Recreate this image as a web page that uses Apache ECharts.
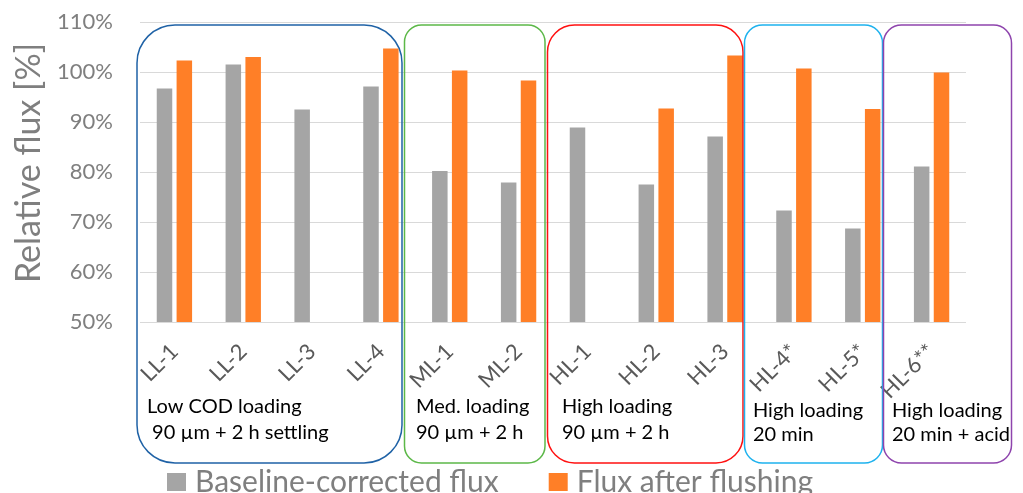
<!DOCTYPE html>
<html>
<head>
<meta charset="utf-8">
<script src="https://cdn.jsdelivr.net/npm/echarts@6/dist/echarts.min.js"></script>
<style>
  html, body { margin: 0; padding: 0; background: #fff; }
  #chart { width: 1023px; height: 493px; }
</style>
</head>
<body>
<div id="chart"></div>
<script>
// Samples (x axis) and measured relative fluxes (%)
const samples = ['LL-1', 'LL-2', 'LL-3', 'LL-4', 'ML-1', 'ML-2', 'HL-1', 'HL-2', 'HL-3', 'HL-4*', 'HL-5*', 'HL-6**'];
const baselineCorrected = [96.7, 101.5, 92.5, 97.1, 80.2, 77.9, 88.9, 77.5, 87.1, 72.3, 68.7, 81.1];
const afterFlushing = [102.3, 103.0, null, 104.7, 100.3, 98.3, null, 92.7, 103.3, 100.7, 92.6, 99.9];
const seriesNames = ['Baseline-corrected flux', 'Flux after flushing'];
const yTicks = { min: 50, max: 110, step: 10 };

// Experiment groups: box outline and two-line caption
const groups = [
  { x0: 137, x1: 402, r: 38, color: '#1f62a6', lines: ['Low COD loading', ' 90 µm + 2 h settling'], tx: 147, ty: [417, 443] },
  { x0: 404.5, x1: 545, r: 17, color: '#5cb848', lines: ['Med. loading', '90 µm + 2 h'], tx: 416, ty: [417, 443] },
  { x0: 547.5, x1: 743, r: 27, color: '#ff1010', lines: ['High loading', '90 µm + 2 h'], tx: 562, ty: [417, 443] },
  { x0: 744.5, x1: 882.5, r: 18, color: '#1eb2ee', lines: ['High loading', '20 min'], tx: 753, ty: [421, 445] },
  { x0: 883.5, x1: 1011.5, r: 18, color: '#8e44ad', lines: ['High loading', '20 min + acid'], tx: 892, ty: [421, 445] }
];
const boxTop = 25, boxBottom = 463;

const FONT = 'Lato';
const chart = echarts.init(document.getElementById('chart'), null, { renderer: 'canvas' });

const graphics = [];
groups.forEach(g => {
  graphics.push({
    type: 'rect', z: 100, silent: true,
    shape: { x: g.x0, y: boxTop, width: g.x1 - g.x0, height: boxBottom - boxTop, r: g.r },
    style: { fill: null, stroke: g.color, lineWidth: 1.5 }
  });
  g.lines.forEach((t, i) => {
    graphics.push({
      type: 'text', z: 101, silent: true, x: g.tx, y: g.ty[i],
      style: { text: t, fill: '#000', font: '20px ' + FONT, textVerticalAlign: 'bottom', textAlign: 'left' }
    });
  });
});

chart.setOption({
  animation: false,
  backgroundColor: '#fff',
  textStyle: { fontFamily: FONT },
  grid: { left: 140, right: 57, top: 22, bottom: 171, containLabel: false },
  legend: {
    data: seriesNames,
    left: 162, top: 462,
    icon: 'rect', itemWidth: 19, itemHeight: 18, itemGap: 50,
    textStyle: { fontSize: 30, color: '#7f7f7f', fontFamily: FONT, padding: [0, 0, 0, 4] }
  },
  xAxis: {
    type: 'category',
    data: samples,
    axisLine: { show: false },
    axisTick: { show: false },
    axisLabel: { interval: 0, rotate: 45, margin: 26, fontSize: 22, color: '#595959', fontFamily: FONT }
  },
  yAxis: {
    type: 'value',
    min: yTicks.min, max: yTicks.max, interval: yTicks.step,
    name: 'Relative flux [%]',
    nameLocation: 'middle', nameGap: 94,
    nameTextStyle: { fontSize: 34, color: '#7f7f7f', fontFamily: FONT, padding: [0, 0, 0, 18] },
    axisLine: { show: false },
    axisTick: { show: false },
    axisLabel: { formatter: '{value}%', fontSize: 22, color: '#7f7f7f', margin: 27, fontFamily: FONT },
    splitLine: { lineStyle: { color: '#d9d9d9', width: 1 } }
  },
  series: [
    { name: seriesNames[0], type: 'bar', data: baselineCorrected, barWidth: 15.5, barGap: '28%', itemStyle: { color: '#a5a5a5' } },
    { name: seriesNames[1], type: 'bar', data: afterFlushing, barWidth: 15.5, itemStyle: { color: '#ff7f27' } }
  ],
  graphic: graphics
});
</script>
</body>
</html>
